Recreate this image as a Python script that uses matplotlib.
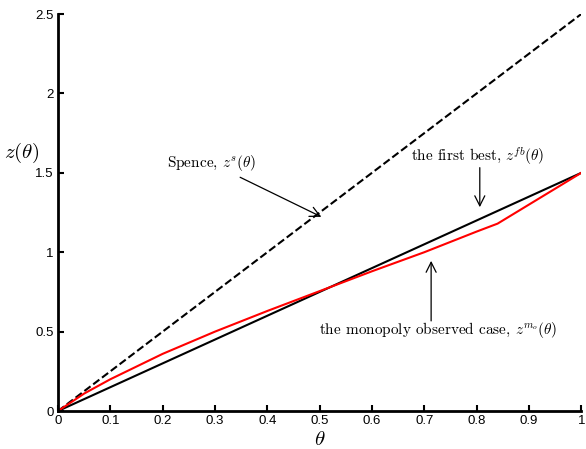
import numpy as np
import matplotlib
matplotlib.use('Agg')
import matplotlib.pyplot as plt

plt.rcParams['mathtext.fontset'] = 'cm'
plt.rcParams['font.family'] = ['Liberation Sans', 'DejaVu Sans']

# data
theta_lin = [0.0, 1.0]
z_spence = [0.0, 2.5]
z_fb = [0.0, 1.5]
theta_mo = [0.0, 0.05, 0.1, 0.2, 0.3, 0.4, 0.5, 0.6, 0.7, 0.8, 0.84, 1.0]
z_mo = [0.0, 0.11, 0.2, 0.36, 0.5, 0.63, 0.755, 0.88, 1.0, 1.13, 1.18, 1.5]

xticks = [0, 0.1, 0.2, 0.3, 0.4, 0.5, 0.6, 0.7, 0.8, 0.9, 1]
xlabels = ['0', '0.1', '0.2', '0.3', '0.4', '0.5', '0.6', '0.7', '0.8', '0.9', '1']
yticks = [0, 0.5, 1, 1.5, 2, 2.5]
ylabels = ['0', '0.5', '1', '1.5', '2', '2.5']

fig = plt.figure(figsize=(5.86, 4.49), dpi=100)
ax = fig.add_axes([0.099, 0.0846, 0.893, 0.8842])

ax.plot(theta_lin, z_spence, 'k--', linewidth=1.5)
ax.plot(theta_lin, z_fb, 'k', linewidth=1.5)
ax.plot(theta_mo, z_mo, 'r', linewidth=1.5)

ax.set_xlim(0, 1)
ax.set_ylim(0, 2.5)
ax.set_xticks(xticks)
ax.set_xticklabels(xlabels, fontsize=9.5)
ax.set_yticks(yticks)
ax.set_yticklabels(ylabels, fontsize=9.5)
ax.tick_params(direction='in', length=4, width=1.5, pad=3)
for s in ['top', 'right']:
    ax.spines[s].set_visible(False)
for s in ['left', 'bottom']:
    ax.spines[s].set_linewidth(2)

ax.set_xlabel(r'$\theta$', fontsize=15, labelpad=2)
ax.set_ylabel(r'$z(\theta)$', fontsize=15, rotation=0)
ax.yaxis.set_label_coords(-0.07, 0.62)

arr = dict(arrowstyle='->', color='k', linewidth=0.9, mutation_scale=18)
ax.annotate(r'Spence, $z^s(\theta)$', xy=(0.508, 1.215), xytext=(0.378, 1.56),
            fontsize=11, family='cmr10', ha='right', va='center', arrowprops=arr)
ax.annotate('', xy=(0.806, 1.266), xytext=(0.806, 1.55), arrowprops=arr)
ax.text(0.802, 1.60, r'the first best, $z^{fb}(\theta)$',
        fontsize=11, family='cmr10', ha='center', va='center')
ax.annotate('', xy=(0.713, 0.963), xytext=(0.713, 0.55), arrowprops=arr)
ax.text(0.726, 0.51, r'the monopoly observed case, $z^{m_o}(\theta)$',
        fontsize=11, family='cmr10', ha='center', va='center')

fig.savefig('out.png', dpi=100)
